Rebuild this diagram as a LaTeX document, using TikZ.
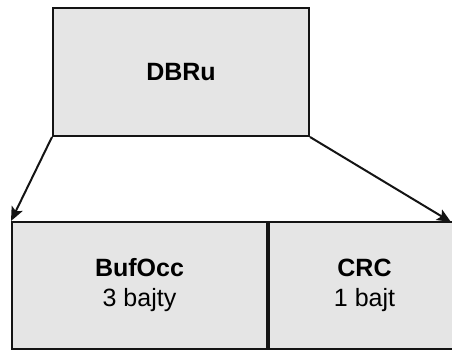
\documentclass[tikz,border=0pt]{standalone}
\usepackage{fontspec}
\setmainfont{Liberation Sans}
\usepackage{xcolor}
\usepackage{tikz}
\usetikzlibrary{arrows.meta, positioning}
\definecolor{boxgray}{RGB}{229,229,229}
\definecolor{boxline}{RGB}{20,20,20}
\tikzset{
  field/.style={rectangle, draw=boxline, fill=boxgray, line width=2pt,
    inner sep=0pt, align=center, font=\fontsize{25}{30}\selectfont},
  arrow/.style={-{Stealth[length=14pt, width=12pt, inset=3pt]}, line width=2pt, color=boxline}
}

\begin{document}
\begin{tikzpicture}[x=1pt, y=-1pt]
  \useasboundingbox (0,0) rectangle (452,349);
  % Frame
  \node[field, minimum width=256pt, minimum height=128pt] (dbru) at (181,72) {\textbf{DBRu}};
  % Fields of the frame
  \node[field, minimum width=255pt, minimum height=127pt] (bufocc) at (139.5,285.5)
    {\textbf{BufOcc}\\3 bajty};
  \node[field, minimum width=191pt, minimum height=127pt, right=0pt of bufocc] (crc)
    {\textbf{CRC}\\1 bajt};
  \coordinate (crcend) at (451,222);
  % Expansion arrows
  \draw[arrow] (dbru.south west) -- (bufocc.north west);
  \draw[arrow] (dbru.south east) -- (crcend);
\end{tikzpicture}
\end{document}
